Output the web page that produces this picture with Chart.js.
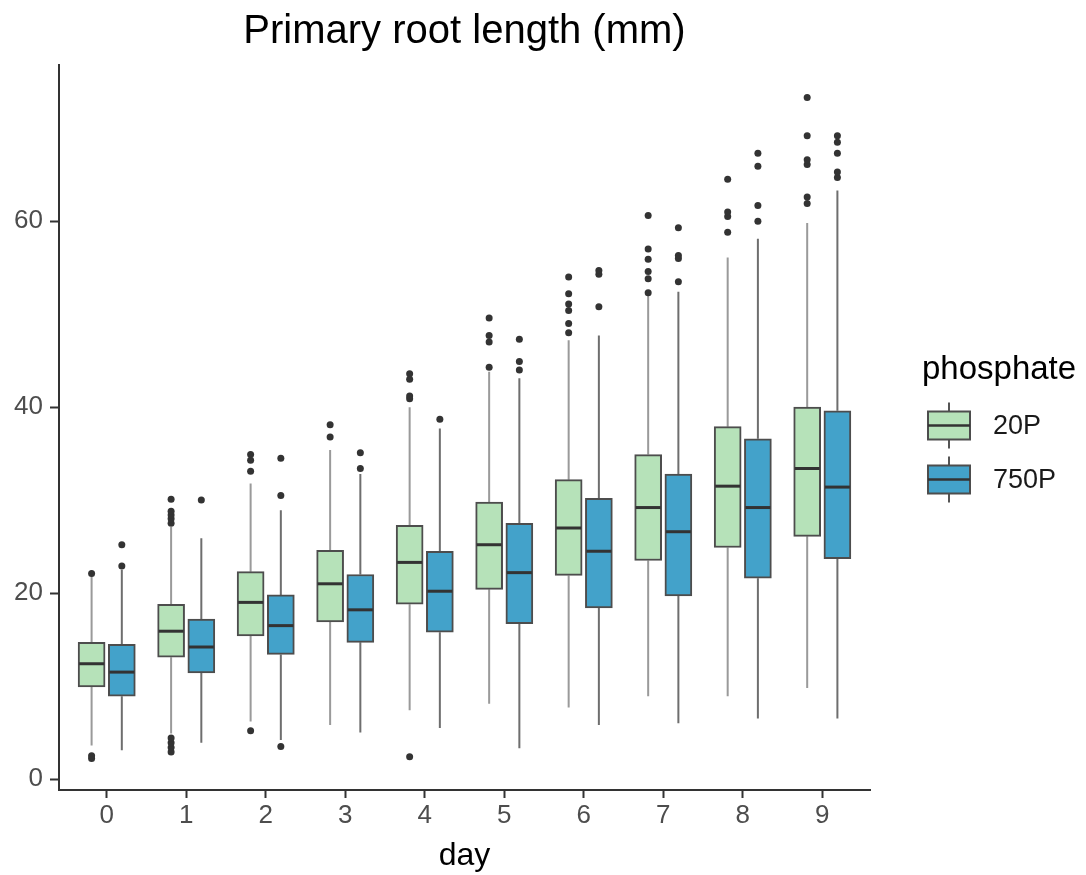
<!DOCTYPE html>
<html>
<head>
<meta charset="utf-8">
<script src="https://cdn.jsdelivr.net/npm/chart.js@4.4.1/dist/chart.umd.min.js"></script>
<style>
  html, body { margin: 0; padding: 0; background: #fff; }
</style>
</head>
<body>
<canvas id="rootChart" width="1086" height="875"></canvas>
<script>
// days on the x axis, tick values on the y axis
const days = [0, 1, 2, 3, 4, 5, 6, 7, 8, 9];
const yTicks = [0, 20, 40, 60];
const groupNames = ['20P', '750P'];

// 20P boxes
const low20 = [3.6, 4.9, 6.2, 5.8, 7.4, 8.1, 7.7, 8.9, 8.9, 9.8];
const q1_20 = [9.9, 13.1, 15.4, 16.9, 18.8, 20.4, 21.9, 23.5, 24.9, 26.1];
const med20 = [12.4, 15.9, 19.0, 21.0, 23.3, 25.2, 27.0, 29.2, 31.5, 33.4];
const q3_20 = [14.7, 18.8, 22.3, 24.6, 27.3, 29.8, 32.2, 34.9, 37.9, 40.0];
const high20 = [21.8, 27.1, 31.8, 35.4, 40.0, 43.8, 47.2, 52.0, 56.1, 59.8];
const out20 = [
  [2.2, 2.5, 22.1],
  [2.9, 3.4, 3.9, 4.4, 27.5, 28.0, 28.4, 28.8, 30.1],
  [5.2, 33.1, 34.3, 34.9],
  [36.8, 38.1],
  [2.4, 40.9, 41.2, 43.0, 43.6],
  [44.3, 47.0, 47.7, 49.6],
  [48.0, 49.0, 50.4, 51.1, 52.2, 54.0],
  [52.3, 53.8, 54.6, 55.9, 57.0, 60.6],
  [58.8, 60.5, 61.0, 64.5],
  [61.9, 62.6, 66.1, 66.6, 69.2, 73.3]
];

// 750P boxes
const low750 = [3.1, 3.9, 4.2, 5.0, 5.5, 3.3, 5.8, 6.0, 6.5, 6.5];
const q1_750 = [8.9, 11.4, 13.4, 14.7, 15.8, 16.7, 18.4, 19.7, 21.6, 23.7];
const med750 = [11.5, 14.2, 16.5, 18.2, 20.2, 22.2, 24.5, 26.6, 29.2, 31.4];
const q3_750 = [14.5, 17.2, 19.8, 22.0, 24.5, 27.5, 30.2, 32.8, 36.6, 39.6];
const high750 = [22.5, 25.9, 28.9, 32.8, 37.7, 43.1, 47.7, 52.4, 58.1, 63.3];
const out750 = [
  [22.9, 25.2],
  [30.0],
  [3.5, 30.5, 34.5],
  [33.4, 35.1],
  [38.7],
  [44.0, 44.9, 47.3],
  [50.8, 54.3, 54.7],
  [53.5, 56.0, 56.3, 59.3],
  [60.0, 61.7, 65.9, 67.3],
  [64.7, 65.3, 67.3, 68.5, 69.2]
];

const fill20 = '#b6e2b9';
const fill750 = '#43a2ca';
const dodge = 0.19;
const FONT = "'Liberation Sans', Arial, sans-serif";

const groups = [
  { name: groupNames[0], off: -dodge, low: low20, q1: q1_20, med: med20, q3: q3_20, high: high20, out: out20, fill: fill20, whisker: '#9a9a9a' },
  { name: groupNames[1], off: dodge, low: low750, q1: q1_750, med: med750, q3: q3_750, high: high750, out: out750, fill: fill750, whisker: '#6e6e6e' }
];

const datasets = [];
groups.forEach(g => {
  datasets.push({
    type: 'bar',
    label: g.name,
    data: days.map((d, i) => ({ x: d + g.off, y: [g.q1[i], g.q3[i]] })),
    backgroundColor: g.fill,
    borderColor: '#4d4d4d',
    borderWidth: 2,
    borderSkipped: false,
    barThickness: 27,
    grouped: false,
    order: 2
  });
});
groups.forEach(g => {
  const pts = [];
  days.forEach((d, i) => g.out[i].forEach(v => pts.push({ x: d + g.off, y: v })));
  datasets.push({
    type: 'scatter',
    label: g.name + ' outliers',
    data: pts,
    pointRadius: 3.5,
    pointBackgroundColor: '#333333',
    pointBorderWidth: 0,
    order: 1
  });
});

// whiskers behind the boxes, medians on top, ggplot-style legend on the right
const boxLines = {
  id: 'boxLines',
  beforeDatasetsDraw(chart) {
    const { ctx, scales: { x, y } } = chart;
    ctx.save();
    groups.forEach(g => {
      ctx.strokeStyle = g.whisker;
      ctx.lineWidth = 2;
      days.forEach((d, i) => {
        const px = x.getPixelForValue(d + g.off);
        ctx.beginPath();
        ctx.moveTo(px, y.getPixelForValue(g.high[i]));
        ctx.lineTo(px, y.getPixelForValue(g.q3[i]));
        ctx.moveTo(px, y.getPixelForValue(g.q1[i]));
        ctx.lineTo(px, y.getPixelForValue(g.low[i]));
        ctx.stroke();
      });
    });
    ctx.restore();
  },
  afterDatasetsDraw(chart) {
    const { ctx, scales: { x, y } } = chart;
    ctx.save();
    ctx.strokeStyle = '#333333';
    ctx.lineWidth = 3;
    groups.forEach(g => {
      days.forEach((d, i) => {
        const px = x.getPixelForValue(d + g.off);
        const py = y.getPixelForValue(g.med[i]);
        ctx.beginPath();
        ctx.moveTo(px - 12.5, py);
        ctx.lineTo(px + 12.5, py);
        ctx.stroke();
      });
    });
    ctx.restore();
  },
  afterDraw(chart) {
    const ctx = chart.ctx;
    const left = chart.chartArea.right + 52;
    ctx.save();
    ctx.fillStyle = '#000';
    ctx.font = '33px ' + FONT;
    ctx.textBaseline = 'alphabetic';
    ctx.textAlign = 'left';
    ctx.fillText('phosphate', left, 379);
    const keyX = left + 6;
    const centers = [425.5, 479.5];
    groups.forEach((g, k) => {
      const cy = centers[k];
      ctx.strokeStyle = '#555';
      ctx.lineWidth = 2;
      ctx.beginPath();
      ctx.moveTo(keyX + 21, cy - 23);
      ctx.lineTo(keyX + 21, cy + 23);
      ctx.stroke();
      ctx.fillStyle = g.fill;
      ctx.fillRect(keyX, cy - 14, 42, 28);
      ctx.strokeStyle = '#4d4d4d';
      ctx.strokeRect(keyX, cy - 14, 42, 28);
      ctx.strokeStyle = '#333';
      ctx.lineWidth = 2.5;
      ctx.beginPath();
      ctx.moveTo(keyX, cy);
      ctx.lineTo(keyX + 42, cy);
      ctx.stroke();
      ctx.fillStyle = '#1a1a1a';
      ctx.font = '27px ' + FONT;
      ctx.textBaseline = 'middle';
      ctx.fillText(g.name, keyX + 65, cy + 1);
    });
    ctx.restore();
  }
};

const ctx = document.getElementById('rootChart').getContext('2d');
new Chart(ctx, {
  type: 'bar',
  data: { datasets: datasets },
  plugins: [boxLines],
  options: {
    responsive: false,
    animation: false,
    layout: { padding: { right: 216 } },
    plugins: {
      legend: { display: false },
      tooltip: { enabled: false },
      title: {
        display: true,
        text: 'Primary root length (mm)',
        fullSize: false,
        color: '#000',
        font: { family: FONT, size: 40, weight: 'normal' },
        padding: { top: 8, bottom: 9 }
      }
    },
    scales: {
      x: {
        type: 'linear',
        min: -0.6,
        max: 9.6,
        offset: false,
        afterBuildTicks: (scale) => { scale.ticks = days.map(v => ({ value: v })); },
        afterFit: (scale) => { scale.height = 85; },
        ticks: {
          color: '#4d4d4d',
          font: { family: FONT, size: 26, lineHeight: 1 },
          padding: 5,
          maxRotation: 0,
          callback: (v) => String(v)
        },
        grid: { display: true, offset: false, drawOnChartArea: false, tickLength: 8, tickColor: '#333', tickWidth: 2 },
        border: { display: true, color: '#333', width: 2 },
        title: {
          display: true,
          text: 'day',
          color: '#000',
          font: { family: FONT, size: 32 },
          padding: { top: 0, bottom: 0 }
        }
      },
      y: {
        type: 'linear',
        min: -1.18,
        max: 76.8,
        afterBuildTicks: (scale) => { scale.ticks = yTicks.map(v => ({ value: v })); },
        afterFit: (scale) => { scale.width = 59; },
        ticks: {
          color: '#4d4d4d',
          font: { family: FONT, size: 26 },
          padding: 7,
          callback: (v) => String(v)
        },
        grid: { display: true, drawOnChartArea: false, tickLength: 9, tickColor: '#333', tickWidth: 2 },
        border: { display: true, color: '#333', width: 2 }
      }
    }
  }
});
</script>
</body>
</html>
